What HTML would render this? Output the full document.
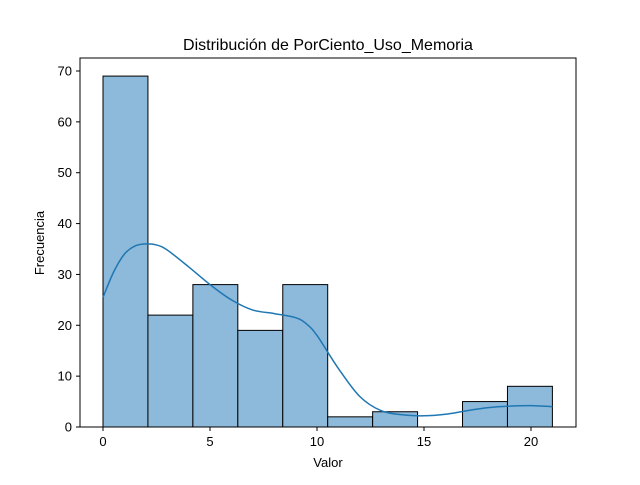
<!DOCTYPE html>
<html><head><meta charset="utf-8"><style>
body{margin:0;background:#fff;}
svg text{font-family:"Liberation Sans","DejaVu Sans",sans-serif;fill:#000;}
</style></head><body>
<svg id="chart" width="640" height="480">
<rect width="640" height="480" fill="#fff"/>
<text x="328" y="50" font-size="16" text-anchor="middle">Distribución de PorCiento_Uso_Memoria</text>
<g id="bars"></g>
<g id="kde"></g>
<rect x="80" y="58" width="496" height="369" fill="none" stroke="#000" stroke-width="1"/>
<g id="xticks"></g><g id="yticks"></g>
<text x="328" y="467" font-size="13" text-anchor="middle">Valor</text>
<text x="44" y="243" font-size="13" text-anchor="middle" transform="rotate(-90 44 243)">Frecuencia</text>
</svg>
<script>
const binEdges=[0,2.1,4.2,6.3,8.4,10.5,12.6,14.7,16.8,18.9,21];
const counts=[69,22,28,19,28,2,3,0,5,8];
const kdeX=[0,0.5,1,1.5,2,2.5,3,4,5,6,7,8,9,9.5,10,11,12,13,14,15,16,17,18,19,20,21];
const kdeY=[25.5,30.5,34,35.6,36,35.8,34.8,31.5,28,25,23,22.3,21.5,20.3,18,11.5,6,3.2,2.4,2.2,2.5,3.2,3.8,4.1,4.2,4];
const xTicks=[0,5,10,15,20];
const yTicks=[0,10,20,30,40,50,60,70];
const NS="http://www.w3.org/2000/svg";
const X=v=>103+v*(428/20);
const Y=v=>427-v*(356/70);
function mk(t,a,p){const e=document.createElementNS(NS,t);for(const k in a)e.setAttribute(k,a[k]);p.appendChild(e);return e;}
const bars=document.getElementById('bars');
counts.forEach((c,i)=>{
 if(c<=0)return;
 const r=mk('rect',{x:X(binEdges[i]),y:Y(c),width:X(binEdges[i+1])-X(binEdges[i]),height:Y(0)-Y(c),fill:'#8db9da',stroke:'#000','stroke-width':1},bars);
 
 
});
const pts=kdeX.map((x,i)=>[X(x),Y(kdeY[i])]);
let d='M'+pts[0][0]+','+pts[0][1];
for(let i=0;i<pts.length-1;i++){
 const p0=pts[Math.max(0,i-1)],p1=pts[i],p2=pts[i+1],p3=pts[Math.min(pts.length-1,i+2)];
 const c1=[p1[0]+(p2[0]-p0[0])/6,p1[1]+(p2[1]-p0[1])/6];
 const c2=[p2[0]-(p3[0]-p1[0])/6,p2[1]-(p3[1]-p1[1])/6];
 d+='C'+c1.join(',')+' '+c2.join(',')+' '+p2.join(',');
}
const p=mk('path',{d:d,fill:'none',stroke:'#1f77b4','stroke-width':1.5},document.getElementById('kde'));


const xt=document.getElementById('xticks');
xTicks.forEach(v=>{
 mk('line',{x1:X(v),x2:X(v),y1:427,y2:431,stroke:'#000'},xt);
 const t=mk('text',{x:X(v),y:446,'font-size':13,'text-anchor':'middle'},xt);t.textContent=v;
 
 
});
const yt=document.getElementById('yticks');
yTicks.forEach(v=>{
 mk('line',{x1:76,x2:80,y1:Y(v),y2:Y(v),stroke:'#000'},yt);
 const t=mk('text',{x:72,y:Y(v)+4.5,'font-size':13,'text-anchor':'end'},yt);t.textContent=v;
 
 
});
</script>
</body></html>
